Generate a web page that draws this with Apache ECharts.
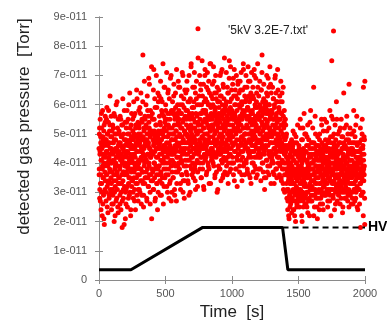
<!DOCTYPE html>
<html><head><meta charset="utf-8">
<script src="https://cdn.jsdelivr.net/npm/echarts@6/dist/echarts.min.js"></script>
<style>html,body{margin:0;padding:0;background:#fff}#c{width:387px;height:321px}</style>
</head><body><div id="c"></div>
<script>
// scatter series: detected gas pressure in units of 1e-12 Torr.
// pressureEven: readings at t = 0,2,4,... s ; pressureOdd: readings at t = 1,3,5,... s
const seriesName = "'5kV 3.2E-7.txt'";
const sampleStep = 2;
const pressureEvenRows = [
"45 38 52 31 44 27 49 36 41 57 33 46 22 39 48 35 43 29 51 40 19 47 37 54 34",
"42 30 48 55 36 44 25 50 39 46 33 58 41 28 47 38 53 43 31 49 35 45 24 40 51",
"37 47 29 43 52 34 41 20 48 38 56 32 45 40 27 50 36 44 61 31 42 39 23 46 35",
"44 33 50 38 26 47 41 55 30 43 36 49 18 40 53 34 45 28 42 37 58 32 46 39 21",
"39 48 31 44 54 36 42 25 50 38 46 33 60 40 29 47 35 52 43 22 45 37 49 32 41",
"46 34 51 40 28 45 56 37 43 31 49 42 24 53 38 47 35 44 62 33 48 39 27 50 41",
"40 52 36 47 30 44 57 38 49 26 45 41 54 34 48 77 37 43 29 51 39 46 33 55 42",
"48 35 53 41 46 27 50 38 58 43 32 47 69 40 52 36 45 30 49 42 56 34 44 21 51",
"43 55 37 48 31 46 72 40 51 35 44 59 28 47 39 53 42 33 50 45 24 49 38 61 36",
"50 39 56 43 47 29 53 41 62 36 48 45 33 57 40 51 44 26 49 38 66 42 54 35 46",
"44 58 38 51 47 32 55 42 49 64 36 53 45 28 50 40 57 46 34 52 43 70 39 48 30",
"52 41 57 45 35 50 63 43 48 31 55 46 39 59 44 51 27 49 42 56 47 37 53 68 40",
"46 55 38 50 44 60 33 52 47 41 57 36 49 71 43 54 30 48 45 62 39 51 34 47 56",
"50 43 58 37 53 47 65 41 49 34 56 45 52 29 48 61 44 55 39 51 46 73 42 50 36",
"47 57 40 52 45 35 59 49 43 66 38 54 48 31 51 44 62 46 56 41 50 37 86 53 45",
"53 44 60 48 38 55 47 67 42 51 35 57 49 45 63 40 54 46 32 52 58 43 50 70 47",
"48 58 42 54 46 37 61 50 44 56 65 39 52 47 33 55 49 60 43 51 74 45 57 41 53",
"55 45 62 49 40 53 47 68 43 57 50 36 59 46 54 42 64 51 48 30 56 44 61 52 39",
"47 59 43 55 50 38 63 46 52 71 41 56 48 44 60 35 53 49 66 42 57 51 45 37 54",
"52 41 58 47 61 44 54 36 50 64 46 55 40 57 49 75 43 53 48 59 38 51 45 62 56",
"49 57 42 53 46 69 40 55 51 34 60 47 56 44 63 50 38 54 48 58 41 52 67 45 55",
"54 43 60 48 39 56 51 65 44 53 47 61 36 55 49 42 58 52 72 46 57 40 50 63 45",
"46 58 50 41 62 53 47 55 37 59 44 52 68 48 56 43 61 50 35 54 47 64 42 57 51",
"53 44 57 48 63 40 55 50 46 70 42 54 49 59 38 52 45 61 47 56 36 51 66 43 55",
"47 56 42 52 60 45 50 38 58 48 65 43 54 77 46 51 40 57 49 62 44 53 35 59 48",
"55 45 59 50 41 64 48 53 37 57 46 69 52 43 60 49 55 39 51 47 67 44 58 50 42",
"49 57 43 53 47 62 40 55 51 36 59 45 52 70 44 56 48 38 61 46 54 42 50 65 47",
"52 42 58 46 55 39 61 48 44 53 35 57 47 64 41 50 45 33 56 49 38 54 43 30 46",
"48 40 53 44 36 50 42 31 45 38 27 41 34 22 39 46 30 36 25 43 33 40 28 35 48",
"34 42 27 38 46 31 36 24 41 33 50 29 37 44 20 35 40 32 47 26 38 30 43 36 28",
"39 31 45 35 27 41 33 52 37 29 43 36 22 40 34 48 30 38 25 42 35 57 32 44 28",
"33 41 36 26 44 38 30 49 35 40 23 37 46 32 39 28 43 35 54 31 38 27 42 34 47",
"40 32 47 36 29 43 38 66 34 41 25 37 45 31 50 35 28 42 39 33 46 21 37 44 30",
"35 43 30 39 48 33 37 26 45 36 41 31 53 38 29 44 34 40 24 46 36 32 42 55 37",
"41 34 46 38 30 44 36 51 33 40 27 42 37 48 31 45 39 35 58 29 43 38 22 47 36",
"75 40 33 45 37 29 42 38 50 34 46 31 39 43 26 48 36 41 32 55 38 44 30 40 35",
"43 35 39 47 31 41 36 52 34 44 28 40 37 49 33 45 38 25 42 36 64 30 46 39 34",
"38 46 32 42 36 53 30 40 45 34 27 43 37 48 31 67 39 35 44 29 41 36 50 33 47",
"35 41 30 45 38 26 43 36 51 33 40 47 31 39 44 28 37 42 35 56 32 46 38 24 41",
"44 36 40 31 47 38 33 42 18 37 45 29 41 35 50 34 39 46 30 66 38 43 36 48 19"
];
const pressureOddRows = [
"36 50 28 43 55 33 47 24 41 52 30 45 38 58 26 49 35 42 21 53 39 46 31 56 43",
"48 27 44 36 59 32 50 40 23 47 54 34 42 29 51 37 63 45 30 40 56 33 49 26 44",
"31 53 41 26 47 36 57 44 30 50 22 39 48 34 60 42 28 45 37 52 25 43 55 33 47",
"51 35 42 29 56 39 46 24 49 33 53 41 27 45 62 37 31 50 44 19 48 36 54 40 30",
"43 26 52 37 47 58 32 44 39 55 28 46 35 50 41 64 30 48 38 24 53 42 57 34 45",
"38 55 30 48 43 61 35 50 27 45 57 39 52 33 46 40 65 29 49 44 36 54 31 47 58",
"53 31 46 59 38 50 34 64 42 48 29 55 44 37 61 33 49 25 52 45 68 40 56 35 47",
"41 60 37 52 28 48 63 43 35 56 46 32 54 39 67 45 51 26 58 42 36 50 73 44 38",
"57 34 50 43 65 31 47 55 40 62 27 49 38 53 45 70 36 59 33 48 42 64 30 51 46",
"39 63 45 34 54 48 68 37 51 29 58 43 61 35 50 74 41 46 56 32 52 40 66 44 55",
"60 36 53 45 71 40 49 30 57 43 65 38 52 47 62 33 55 44 69 41 50 27 58 48 37",
"43 61 50 35 58 44 67 40 53 29 56 48 64 37 51 45 72 33 57 42 60 39 54 46 66",
"58 38 53 66 42 49 31 57 45 63 40 52 36 60 47 70 34 55 44 59 28 51 65 41 50",
"45 64 39 55 50 68 36 58 43 61 33 52 47 70 41 57 49 30 62 44 53 74 38 56 48",
"59 42 66 48 37 55 61 45 71 39 52 34 64 47 57 40 68 50 44 60 32 54 76 43 51",
"44 63 51 70 40 57 46 65 35 53 60 42 75 49 38 58 45 67 52 31 61 48 55 72 41",
"62 45 57 36 66 50 43 71 53 40 60 48 68 38 55 64 44 74 51 33 59 47 63 42 56",
"41 67 52 60 44 73 39 56 48 64 35 58 51 70 43 62 37 55 47 66 53 31 61 45 57",
"65 49 38 61 54 70 43 57 34 63 50 45 72 40 58 47 67 36 55 62 44 76 52 41 59",
"46 60 53 71 39 56 48 66 42 58 33 64 51 45 69 37 55 61 43 73 50 40 57 65 47",
"58 40 67 49 55 36 63 52 72 44 57 47 65 38 60 51 70 42 54 32 62 46 68 53 43",
"43 64 51 37 59 68 46 55 41 71 49 60 34 57 65 44 52 74 39 61 48 56 36 66 50",
"61 47 70 40 56 52 66 38 59 45 73 50 42 63 36 58 48 68 44 55 62 33 57 71 46",
"40 58 49 66 37 54 62 44 72 51 39 60 46 56 69 35 53 64 42 59 48 74 45 38 57",
"63 44 55 38 68 50 42 59 34 65 47 56 71 40 53 61 45 37 58 67 43 52 31 60 49",
"46 61 35 57 48 70 41 54 63 39 58 50 44 66 36 60 52 73 42 56 47 33 64 51 40",
"58 41 66 50 37 55 62 45 33 60 47 69 43 53 38 64 50 57 35 61 44 72 49 40 55",
"42 59 49 36 63 45 55 40 68 51 34 57 46 61 38 53 44 66 31 52 40 58 36 49 43",
"55 44 38 49 33 42 28 46 37 24 40 31 45 35 21 38 29 42 33 47 26 37 30 44 23",
"39 28 45 33 51 24 41 36 30 47 22 38 43 27 35 49 31 40 25 44 34 53 29 37 42",
"30 46 35 25 42 38 55 31 44 28 39 48 33 20 41 36 52 27 45 34 29 43 37 50 26",
"44 29 50 37 32 46 25 41 35 53 30 39 27 48 36 42 22 45 33 38 58 31 43 29 40",
"27 45 38 52 31 40 34 22 47 36 43 29 56 33 39 46 30 37 44 25 41 35 49 28 38",
"46 31 41 24 50 37 44 33 28 42 36 55 30 47 39 26 43 35 51 32 40 45 29 38 34",
"33 48 29 42 36 54 31 45 39 25 47 35 41 30 52 38 44 27 40 34 49 31 43 37 56",
"42 31 49 36 55 28 44 33 40 47 24 39 53 35 30 45 38 61 32 42 27 46 36 50 33",
"29 44 36 51 34 40 26 47 38 32 55 41 30 45 36 23 49 39 43 31 47 35 52 28 41",
"45 33 40 28 48 37 56 31 42 35 50 29 44 38 25 47 33 41 52 36 30 45 39 26 43",
"37 50 28 43 33 47 39 58 31 44 36 27 49 40 34 53 30 42 38 47 25 39 44 31 36",
"31 42 47 35 26 44 38 52 33 40 29 48 36 43 55 30 45 37 22 41 34 49 39 28 68"
];
const parseRows = rows => rows.join(' ').trim().split(/\s+/).map(Number);
const pressureEven = parseRows(pressureEvenRows);
const pressureOdd = parseRows(pressureOddRows);

// HV trace (same 1e-12 units) – solid profile and dashed continuation
const hvTime = [0, 240, 780, 1380, 1420, 2000];
const hvLevel = [3.5, 3.5, 18, 18, 3.5, 3.5];
const hvDashTime = [1380, 2000];
const hvDashLevel = [18, 18];

const xTickValues = [0, 500, 1000, 1500, 2000];
const yTickLabels = ['0','1e-011','2e-011','3e-011','4e-011','5e-011','6e-011','7e-011','8e-011','9e-011'];

const scatterData = [];
pressureEven.forEach((v, i) => {
  scatterData.push([i * sampleStep, v]);
  if (i < pressureOdd.length) scatterData.push([i * sampleStep + 1, pressureOdd[i]]);
});
const hvData = hvTime.map((t, i) => [t, hvLevel[i]]);
const hvDashData = hvDashTime.map((t, i) => [t, hvDashLevel[i]]);

const font = "'Liberation Sans', Arial, sans-serif";
const frame = {show: true, lineStyle: {color: '#8a8a8a', width: 1}};
const tick = {show: true, inside: true, length: 4, lineStyle: {color: '#8a8a8a'}};

const chart = echarts.init(document.getElementById('c'), null, {renderer: 'canvas'});
chart.setOption({
  animation: false,
  backgroundColor: '#fff',
  grid: {left: 99, right: 22, top: 17, bottom: 41, containLabel: false, outerBoundsMode: 'none'},
  legend: {
    data: [seriesName], top: 20, right: 46, align: 'right',
    itemWidth: 5, itemHeight: 5, itemGap: 0,
    textStyle: {fontFamily: font, fontSize: 12, color: '#222', padding: [0, 18, 0, 0]}
  },
  xAxis: [{
    type: 'value', min: xTickValues[0], max: xTickValues[xTickValues.length - 1], interval: 500,
    position: 'bottom', axisLine: frame, axisTick: tick, splitLine: {show: false},
    axisLabel: {color: '#555', fontSize: 11, fontFamily: font, margin: 8, formatter: v => String(v)},
    name: 'Time  [s]', nameLocation: 'middle', nameGap: 24,
    nameTextStyle: {fontFamily: font, fontSize: 17, color: '#222'}
  }, {
    type: 'value', min: 0, max: 2000, interval: 500, position: 'top',
    axisLine: frame, axisTick: tick, axisLabel: {show: false}, splitLine: {show: false}
  }],
  yAxis: [{
    type: 'value', min: 0, max: 90, interval: 10, position: 'left',
    axisLine: frame, axisTick: tick, splitLine: {show: false},
    axisLabel: {color: '#555', fontSize: 11, fontFamily: font, margin: 12,
      formatter: v => yTickLabels[Math.round(v / 10)]},
    name: 'detected gas pressure  [Torr]', nameLocation: 'middle', nameGap: 66,
    nameTextStyle: {fontFamily: font, fontSize: 17, color: '#222', padding: [0, 0, 0, 44]}
  }, {
    type: 'value', min: 0, max: 90, interval: 10, position: 'right',
    axisLine: frame, axisTick: tick, axisLabel: {show: false}, splitLine: {show: false}
  }],
  series: [{
    name: seriesName, type: 'scatter', data: scatterData, symbol: 'circle', symbolSize: 5,
    itemStyle: {color: '#ff0000', opacity: 1}, z: 2, large: false
  }, {
    name: 'HV', type: 'line', data: hvData, showSymbol: false, symbol: 'none',
    lineStyle: {color: '#000', width: 3}, z: 3
  }, {
    name: 'HV dashed', type: 'line', data: hvDashData, showSymbol: false, symbol: 'none',
    lineStyle: {color: '#000', width: 2, type: [6, 4]}, z: 3,
    endLabel: {show: true, formatter: 'HV', distance: 3, fontFamily: font, fontSize: 14,
      fontWeight: 'bold', color: '#000'}
  }]
});
</script></body></html>
